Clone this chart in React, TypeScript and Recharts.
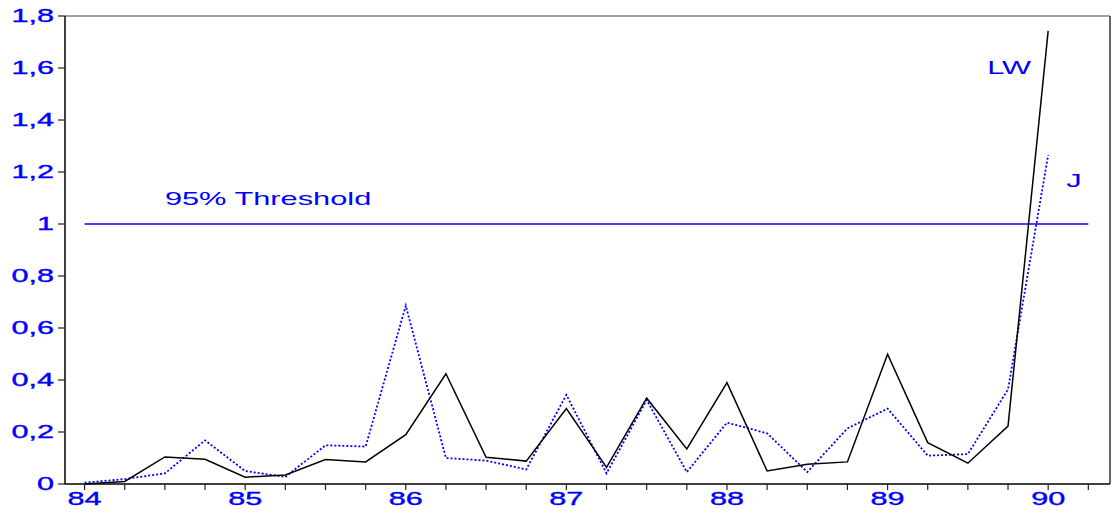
import React from "react";
import { LineChart, Line, XAxis, YAxis, ReferenceLine, ReferenceDot } from "recharts";

const periods = [
  84, 84.25, 84.5, 84.75, 85, 85.25, 85.5, 85.75, 86, 86.25, 86.5, 86.75, 87,
  87.25, 87.5, 87.75, 88, 88.25, 88.5, 88.75, 89, 89.25, 89.5, 89.75, 90,
];
const lwValues = [
  0.0, 0.01, 0.104, 0.095, 0.026, 0.035, 0.094, 0.085, 0.19, 0.424, 0.103,
  0.088, 0.29, 0.064, 0.33, 0.135, 0.39, 0.05, 0.076, 0.085, 0.499, 0.159,
  0.08, 0.223, 1.743,
];
const jValues = [
  0.005, 0.019, 0.041, 0.168, 0.05, 0.027, 0.149, 0.144, 0.686, 0.1, 0.09,
  0.056, 0.343, 0.041, 0.323, 0.046, 0.236, 0.195, 0.046, 0.214, 0.29, 0.109,
  0.115, 0.364, 1.265,
];
const xTicks = [
  84, 84.25, 84.5, 84.75, 85, 85.25, 85.5, 85.75, 86, 86.25, 86.5, 86.75, 87,
  87.25, 87.5, 87.75, 88, 88.25, 88.5, 88.75, 89, 89.25, 89.5, 89.75, 90, 90.25,
];
const yTicks = [0, 0.2, 0.4, 0.6, 0.8, 1, 1.2, 1.4, 1.6, 1.8];
const threshold = 1;
const xDomain: [number, number] = [83.878, 90.385];
const yDomain: [number, number] = [0, 1.8];

const data = periods.map((p, i) => ({ t: p, LW: lwValues[i], J: jValues[i] }));

const BLUE = "#0000FF";
const FONT = "'Liberation Sans', Arial, sans-serif";

const YTick = (props: any) => {
  const { x, y, payload } = props;
  const label = String(payload.value).replace(".", ",");
  return (
    <text
      transform={`translate(${x},${y}) scale(1.75,1)`}
      x={0}
      y={0}
      dy="0.355em"
      textAnchor="end"
      fill={BLUE}
      stroke={BLUE}
      strokeWidth={0.35}
      fontSize={17.5}
      fontFamily={FONT}
    >
      {label}
    </text>
  );
};

const XTick = (props: any) => {
  const { x, y, payload } = props;
  const v = payload.value;
  if (Math.abs(v - Math.round(v)) > 1e-6) return <g />;
  return (
    <text
      transform={`translate(${x},${y}) scale(1.75,1)`}
      x={0}
      y={0}
      dy="0.71em"
      textAnchor="middle"
      fill={BLUE}
      stroke={BLUE}
      strokeWidth={0.35}
      fontSize={17.5}
      fontFamily={FONT}
    >
      {String(Math.round(v))}
    </text>
  );
};

const makeLabel = (text: string) => (props: any) => {
  const { cx, cy } = props;
  return (
    <text
      transform={`translate(${cx},${cy}) scale(1.62,1)`}
      x={0}
      y={0}
      textAnchor="start"
      fill={BLUE}
      fontSize={19}
      fontFamily={FONT}
    >
      {text}
    </text>
  );
};

export default function App() {
  return (
    <div style={{ position: "absolute", left: 0, top: 0, background: "#fff" }}>
      <LineChart
        width={1116}
        height={518}
        data={data}
        margin={{ top: 16, right: 6, bottom: 4, left: 0 }}
      >
        <XAxis
          dataKey="t"
          type="number"
          domain={xDomain}
          ticks={xTicks}
          interval={0}
          allowDataOverflow
          axisLine={{ stroke: "#000", strokeWidth: 1.5 }}
          tickLine={{ stroke: "#222", strokeWidth: 1.2 }}
          tickSize={6}
          tickMargin={3}
          height={30}
          tick={<XTick />}
        />
        <YAxis
          type="number"
          domain={yDomain}
          ticks={yTicks}
          interval={0}
          width={65}
          axisLine={{ stroke: "#000", strokeWidth: 1.5 }}
          tickLine={{ stroke: "#222", strokeWidth: 1.2 }}
          tickSize={7}
          tickMargin={4}
          tick={<YTick />}
        />
        <ReferenceLine y={1.8} stroke="#808080" strokeWidth={1.5} ifOverflow="visible" />
        <ReferenceLine x={xDomain[1]} stroke="#333" strokeWidth={1.5} ifOverflow="visible" />
        <ReferenceLine
          segment={[
            { x: 84, y: threshold },
            { x: 90.25, y: threshold },
          ]}
          stroke={BLUE}
          strokeWidth={1.3}
        />
        <Line
          type="linear"
          dataKey="J"
          stroke={BLUE}
          strokeWidth={1.8}
          strokeDasharray="2 2"
          dot={false}
          activeDot={false}
          isAnimationActive={false}
        />
        <Line
          type="linear"
          dataKey="LW"
          stroke="#000"
          strokeWidth={1.5}
          dot={false}
          activeDot={false}
          isAnimationActive={false}
        />
        <ReferenceDot x={84.5} y={1.073} r={0} shape={makeLabel("95% Threshold")} />
        <ReferenceDot x={89.62} y={1.577} r={0} shape={makeLabel("LW")} />
        <ReferenceDot x={90.112} y={1.142} r={0} shape={makeLabel("J")} />
      </LineChart>
    </div>
  );
}
